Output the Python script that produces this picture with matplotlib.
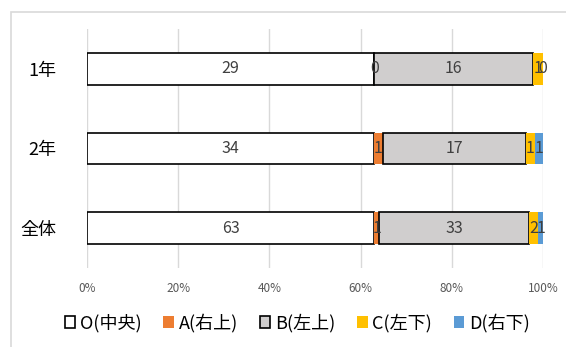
import matplotlib
matplotlib.use('Agg')
import matplotlib.pyplot as plt
from matplotlib.patches import Rectangle

plt.rcParams['font.family'] = ['Noto Sans CJK JP', 'DejaVu Sans']

# データ（人数）
groups = ['1年', '2年', '全体']
series = ['O(中央)', 'A(右上)', 'B(左上)', 'C(左下)', 'D(右下)']
o_vals = [29, 34, 63]
a_vals = [0, 1, 1]
b_vals = [16, 17, 33]
c_vals = [1, 1, 2]
d_vals = [0, 1, 1]
ticks = [0, 20, 40, 60, 80, 100]
tick_labels = ['0%', '20%', '40%', '60%', '80%', '100%']

colors = ['#FFFFFF', '#ED7D31', '#D0CECE', '#FFC000', '#5B9BD5']
edges = ['#000000', 'none', '#000000', 'none', 'none']

values = [o_vals, a_vals, b_vals, c_vals, d_vals]
totals = [sum(v[i] for v in values) for i in range(len(groups))]

fig = plt.figure(figsize=(5.66, 3.47), dpi=100)
# 枠線
fig.patches.append(Rectangle((11 / 566, -0.1), 1.2, 1 - 12 / 347 + 0.1,
                             transform=fig.transFigure, fill=False,
                             edgecolor='#D9D9D9', linewidth=1.2))
ax = fig.add_axes([87 / 566, 1 - 268 / 347, (543 - 87) / 566, (268 - 29) / 347])

ypos = list(range(len(groups)))[::-1]
left = [0.0] * len(groups)
handles = []
for k, vals in enumerate(values):
    pct = [vals[i] / totals[i] * 100 for i in range(len(groups))]
    bars = ax.barh(ypos, pct, left=left, height=0.4, color=colors[k],
                   edgecolor=edges[k], linewidth=1.2, label=series[k], zorder=3)
    handles.append(bars)
    for i in range(len(groups)):
        ax.text(left[i] + pct[i] / 2, ypos[i], str(vals[i]), ha='center',
                va='center', fontsize=11.5, color='#404040', zorder=4)
    left = [left[i] + pct[i] for i in range(len(groups))]

ax.set_xlim(0, 100)
ax.set_ylim(-0.5, 2.5)
ax.set_xticks(ticks)
ax.set_xticklabels(tick_labels, fontsize=8.5, color='#595959')
ax.set_yticks(ypos)
ax.set_yticklabels(groups, fontsize=13, color='#000000')
ax.tick_params(axis='both', length=0)
ax.tick_params(axis='x', pad=10)
ax.tick_params(axis='y', pad=22)
ax.grid(axis='x', color='#D9D9D9', linewidth=1, zorder=0)
for s in ax.spines.values():
    s.set_visible(False)

fig.legend(handles=handles, labels=series, loc='center', ncol=5,
           bbox_to_anchor=(0.525, 1 - 323 / 347), frameon=False, fontsize=13,
           handlelength=0.6, handleheight=0.6, handletextpad=0.25,
           columnspacing=1.2)

fig.savefig('out.png', dpi=100)
